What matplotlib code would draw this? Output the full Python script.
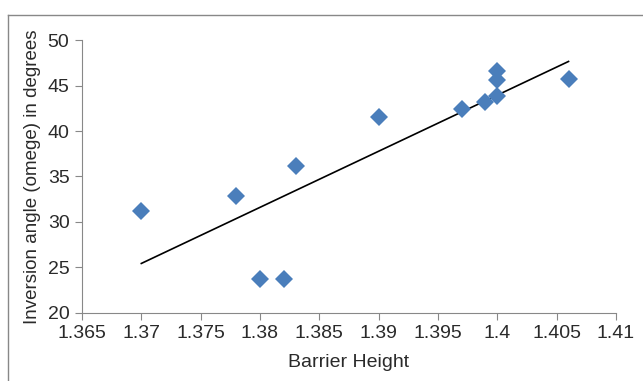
import numpy as np
import matplotlib
matplotlib.use('Agg')
import matplotlib.pyplot as plt
from matplotlib.lines import Line2D

barrier = [1.37, 1.378, 1.38, 1.382, 1.383, 1.39, 1.397, 1.399, 1.4, 1.4, 1.4, 1.406]
omega = [31.2, 32.9, 23.7, 23.7, 36.1, 41.5, 42.4, 43.2, 43.8, 45.6, 46.6, 45.7]
xticks = [1.365, 1.37, 1.375, 1.38, 1.385, 1.39, 1.395, 1.4, 1.405, 1.41]
xlabels = ['1.365', '1.37', '1.375', '1.38', '1.385', '1.39', '1.395', '1.4', '1.405', '1.41']
yticks = [20, 25, 30, 35, 40, 45, 50]

plt.rcParams['font.family'] = ['Liberation Sans', 'DejaVu Sans']
txt = '#2a2a2a'

fig = plt.figure(figsize=(6.43, 3.81), dpi=100)
ax = fig.add_axes([0.1275, 0.1785, 0.8305, 0.7165])

# linear trendline like excel
k, b = np.polyfit(barrier, omega, 1)
xs = np.array([min(barrier), max(barrier)])
ax.plot(xs, k * xs + b, color='black', lw=1.2, zorder=2)
ax.plot(barrier, omega, 'D', color='#4A7EBB', markersize=9.5, markeredgewidth=0, zorder=3)

ax.set_xlim(1.365, 1.41)
ax.set_ylim(20, 50)
ax.set_xticks(xticks)
ax.set_xticklabels(xlabels)
ax.set_yticks(yticks)
ax.tick_params(direction='out', length=5, color='#888888', labelcolor=txt, labelsize=14, pad=4)
for s in ['top', 'right']:
    ax.spines[s].set_visible(False)
for s in ['left', 'bottom']:
    ax.spines[s].set_color('#888888')
ax.set_xlabel('Barrier Height', fontsize=14, labelpad=8, color=txt)
ax.set_ylabel('Inversion angle (omege) in degrees', fontsize=13.5, labelpad=5, color=txt)

# outer chart frame
fig.add_artist(Line2D([8 / 643, 1], [1 - 15 / 381, 1 - 15 / 381], transform=fig.transFigure, color='#888888', lw=1))
fig.add_artist(Line2D([8 / 643, 8 / 643], [0, 1 - 15 / 381], transform=fig.transFigure, color='#888888', lw=1))

fig.savefig('out.png', dpi=100)
